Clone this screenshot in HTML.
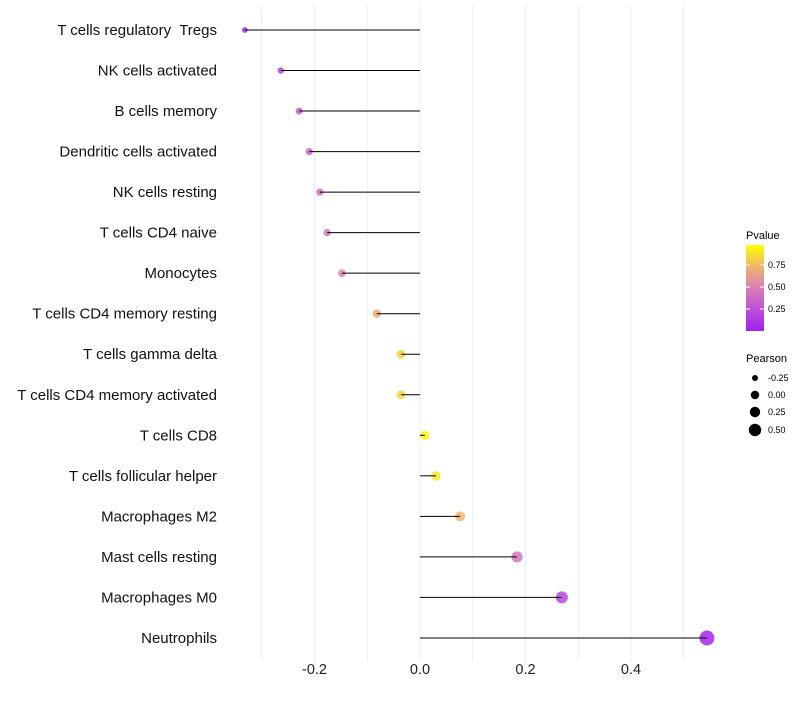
<!DOCTYPE html>
<html><head><meta charset="utf-8"><style>
body{margin:0;background:#fff;font-family:"Liberation Sans",sans-serif;}
text{white-space:pre;}
</style></head><body>
<svg id="chart" width="800" height="700" xmlns="http://www.w3.org/2000/svg" font-family="Liberation Sans, sans-serif">
<g id="grid"></g>
<g id="ylabels"></g>
<g id="xlabels"></g>
<g id="marks"></g>
<g>
<defs><linearGradient id="pg" x1="0" y1="1" x2="0" y2="0">
<stop offset="0" stop-color="#a020f0"/><stop offset="0.25" stop-color="#bf50d8"/><stop offset="0.5" stop-color="#d880b4"/><stop offset="0.75" stop-color="#f0b46c"/><stop offset="1" stop-color="#ffff00"/></linearGradient></defs>
<text x="746" y="239" font-size="11">Pvalue</text>
<rect x="746" y="245" width="18" height="86" fill="url(#pg)"/>
<g stroke="#fff" stroke-width="1"><line x1="746" y1="265" x2="750" y2="265"/><line x1="760" y1="265" x2="764" y2="265"/><line x1="746" y1="287" x2="750" y2="287"/><line x1="760" y1="287" x2="764" y2="287"/><line x1="746" y1="309" x2="750" y2="309"/><line x1="760" y1="309" x2="764" y2="309"/></g>
<g font-size="9"><text x="768" y="268">0.75</text><text x="768" y="290">0.50</text><text x="768" y="312">0.25</text></g>
</g>
<g>
<text x="746" y="362" font-size="11">Pearson</text>
<circle cx="755" cy="378" r="3" fill="#000"/><text x="768" y="381" font-size="9">-0.25</text>
<circle cx="755" cy="395" r="4.2" fill="#000"/><text x="768" y="398" font-size="9">0.00</text>
<circle cx="755" cy="412" r="5.2" fill="#000"/><text x="768" y="415" font-size="9">0.25</text>
<circle cx="755" cy="430" r="6.2" fill="#000"/><text x="768" y="433" font-size="9">0.50</text>
</g>
</svg>
<script>
const categories=["T cells regulatory  Tregs","NK cells activated","B cells memory","Dendritic cells activated","NK cells resting","T cells CD4 naive","Monocytes","T cells CD4 memory resting","T cells gamma delta","T cells CD4 memory activated","T cells CD8","T cells follicular helper","Macrophages M2","Mast cells resting","Macrophages M0","Neutrophils"];
const pearson=[-0.332,-0.264,-0.229,-0.21,-0.19,-0.176,-0.148,-0.082,-0.036,-0.036,0.009,0.030,0.076,0.184,0.269,0.544];
const pvalues=[0.05,0.2,0.3,0.35,0.4,0.45,0.5,0.7,0.85,0.85,0.98,0.92,0.75,0.45,0.2,0.03];
const xTicks=[-0.2,0,0.2,0.4];
const xTickLabels=["-0.2","0.0","0.2","0.4"];
const NS="http://www.w3.org/2000/svg";
const x=v=>420+v*527.5;
const y=i=>30+i*40.53;
function mk(t,a,p){const e=document.createElementNS(NS,t);for(const k in a)e.setAttribute(k,a[k]);p.appendChild(e);return e;}
const stops=[[0,[160,32,240]],[0.25,[191,80,216]],[0.5,[216,128,180]],[0.75,[240,180,108]],[1,[255,255,0]]];
function col(p){for(let i=1;i<stops.length;i++){if(p<=stops[i][0]){const a=stops[i-1],b=stops[i],t=(p-a[0])/(b[0]-a[0]);return 'rgb('+a[1].map((c,j)=>Math.round(c+(b[1][j]-c)*t)).join(',')+')';}}return 'rgb(255,255,0)';}
const g=document.getElementById('grid');
for(let v=-0.3;v<=0.51;v+=0.1){const l=mk('line',{x1:x(v),x2:x(v),y1:5,y2:662,stroke:'#efefef','stroke-width':1},g);

}
const xl=document.getElementById('xlabels');
xTicks.forEach((v,i)=>{const t=mk('text',{x:x(v),y:674,'font-size':14.5,'text-anchor':'middle',fill:'#222'},xl);t.textContent=xTickLabels[i];

});
const yl=document.getElementById('ylabels'),m=document.getElementById('marks');
categories.forEach((c,i)=>{const t=mk('text',{x:217,y:y(i)+5,'font-size':15,'text-anchor':'end',fill:'#111'},yl);t.textContent=c;


const r=Math.max(2,4.6+5.2*pearson[i]);
const ci=mk('circle',{cx:x(pearson[i]),cy:y(i),r:r,fill:col(pvalues[i]),'fill-opacity':0.85},m);


const l=mk('line',{x1:x(0),x2:x(pearson[i]),y1:y(i),y2:y(i),stroke:'#000','stroke-width':1},m);

});
</script>
</body></html>
